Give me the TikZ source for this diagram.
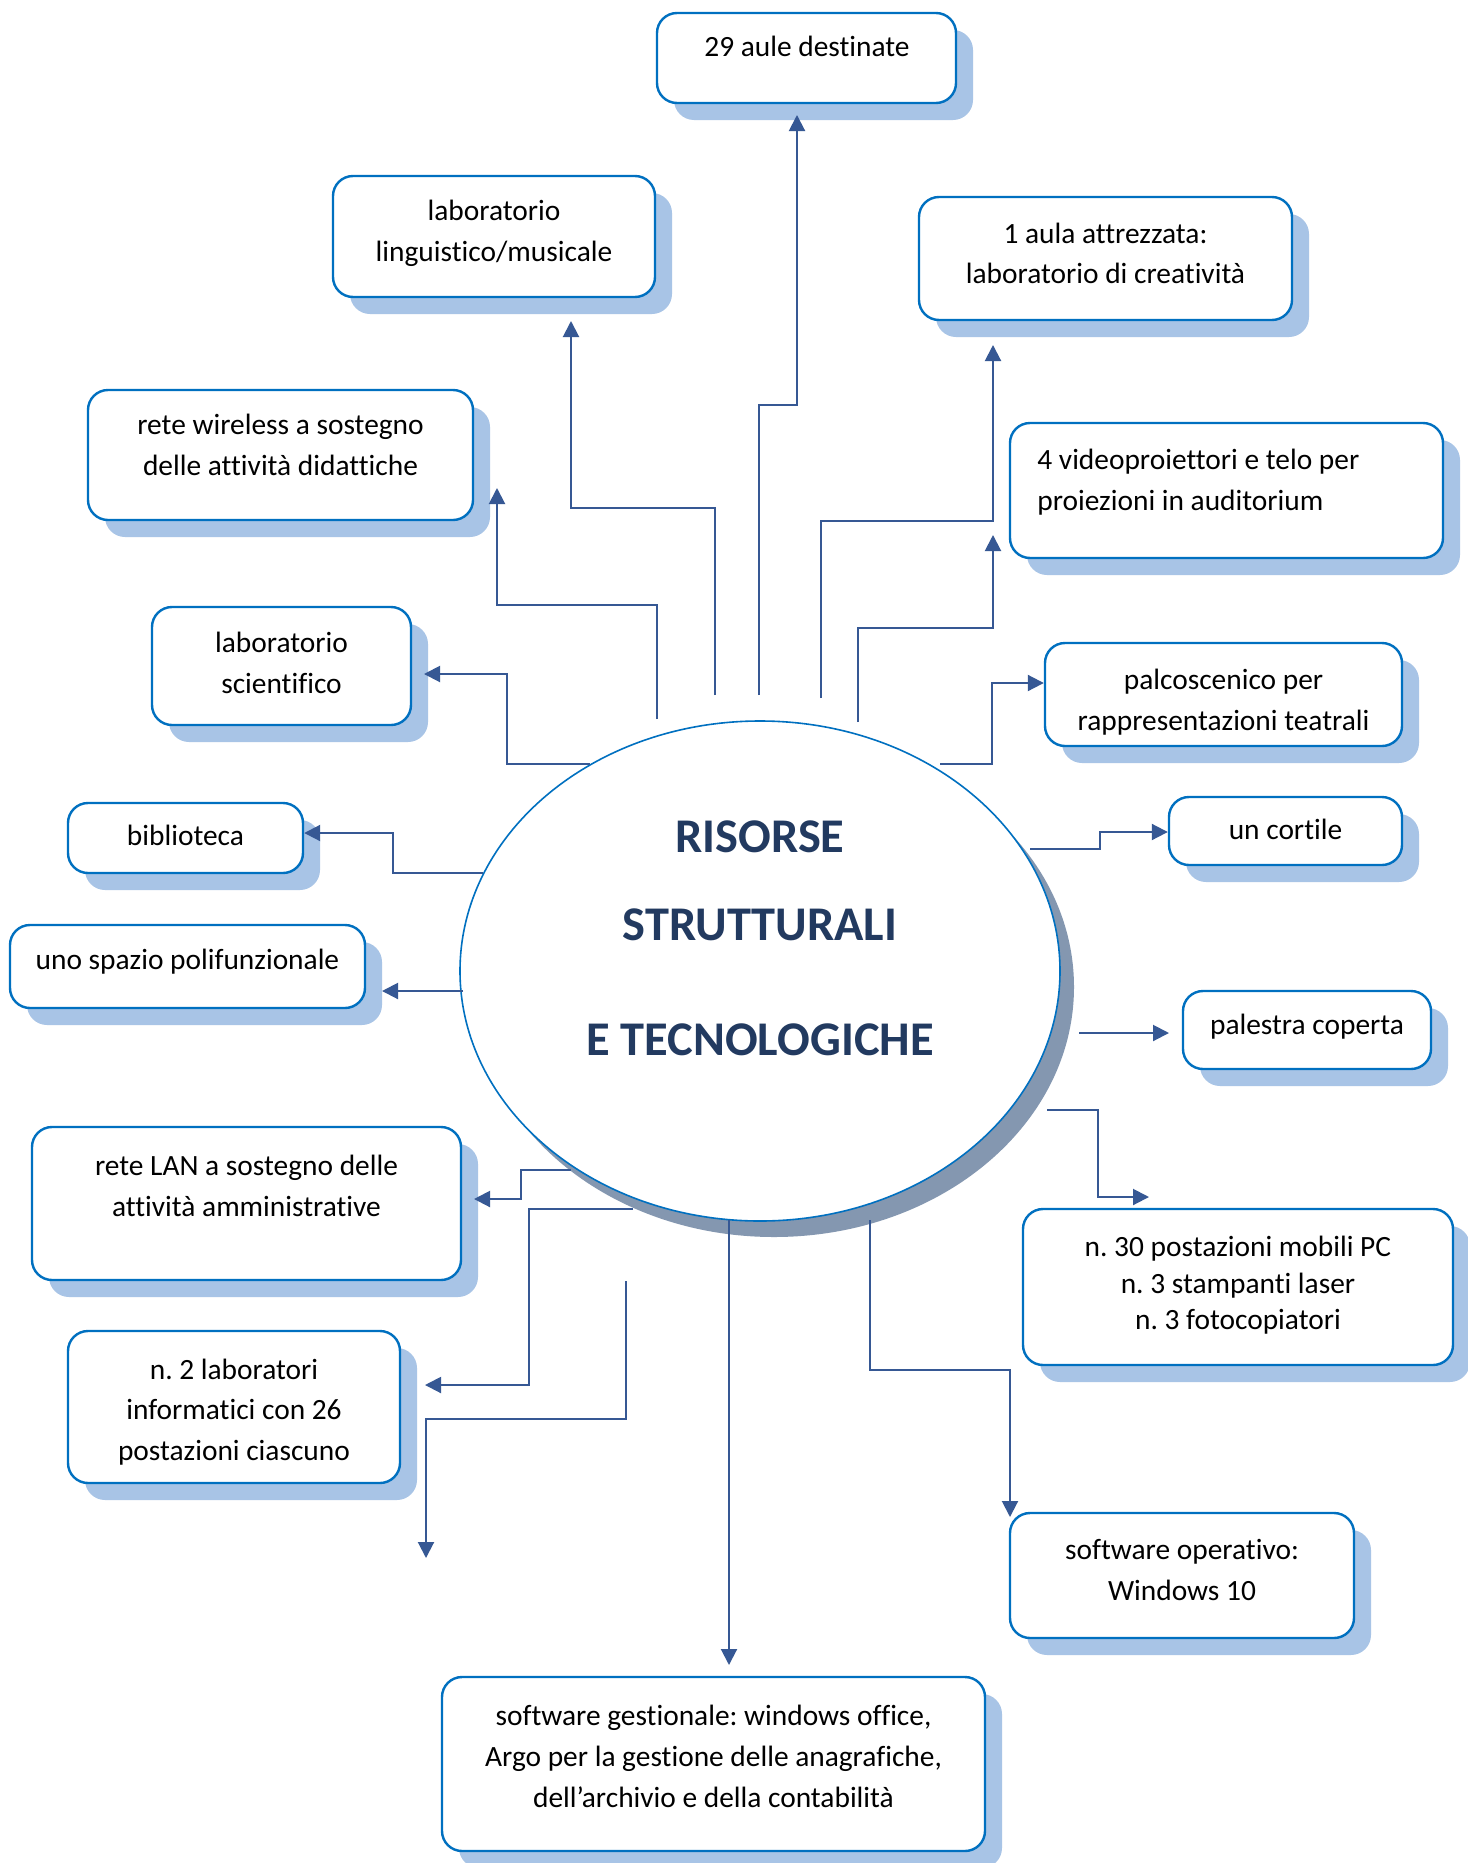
\documentclass[tikz,border=0pt]{standalone}
\usepackage{fontspec}
\setmainfont{Carlito}[Ligatures={NoCommon}]
\frenchspacing
\usetikzlibrary{arrows.meta,shapes.geometric,shadows}
\definecolor{boxline}{RGB}{0,112,192}
\definecolor{boxshade}{RGB}{168,196,230}
\definecolor{ellshade}{RGB}{132,151,176}
\definecolor{linkblue}{RGB}{54,88,148}
\definecolor{titleblue}{RGB}{34,58,96}

\begin{document}
\begin{tikzpicture}[x=0.5pt, y=-0.5pt,
	box/.style = {draw=boxline, line width=1.2pt, fill=white, rounded corners=10pt,
		drop shadow={shadow xshift=8.5pt, shadow yshift=-8.5pt, fill=boxshade, opacity=1}},
	wh/.style 2 args = {minimum width=#1pt, minimum height=#2pt},
	txt/.style = {align=center, inner sep=0pt, font=\fontsize{14.7}{20.35}\selectfont},
	link/.style = {draw=linkblue, line width=1pt, -{Triangle[length=8pt, width=8pt]}}]
	
	\useasboundingbox[fill=white] (0,0) rectangle (1467,1863);
	
	% centre
	\node[ellipse, draw=boxline, line width=0.8pt, fill=white, minimum width=300pt, minimum height=250pt, inner sep=0pt,
		drop shadow={shadow xshift=7pt, shadow yshift=-8pt, fill=ellshade, opacity=1}] (ell) at (760,971) {};
	\node[align=center, text=titleblue, font=\bfseries\fontsize{24.2}{44}\selectfont] (title) at (760,938)
		{RISORSE\\STRUTTURALI\\[13.5pt]E TECNOLOGICHE};
	
	% frames
	\foreach \n/\x/\y/\w/\h in {aule/806.5/58/149.5/45, lingu/494/236.5/161/60.5, aula/1105.5/258.5/186.5/61.5,
		wire/280.5/455/192.5/65, video/1226.5/490.5/216.5/67.5, scient/281.5/666/129.5/59,
		palco/1223.5/694.5/178.5/51.5, biblio/185.5/838/117.5/35, cortile/1285.5/831/116.5/34,
		spazio/187.5/966.5/177.5/41.5, palestra/1307/1030/124/39, lan/246.5/1203.5/214.5/76.5,
		lab2/234/1407/166/76, mobili/1238/1287/215/78, opera/1182/1575.5/172/62.5, gest/713.5/1764/271.5/87}
	{
		\node[box, wh={\w}{\h}] (\n) at (\x,\y) {};
	}
	
	% texts
	\node[txt] (aule-t) at (807,46) {29 aule destinate};
	\node[txt] (lingu-t) at (494,233.5) {laboratorio\\linguistico/musicale};
	\node[txt] (aula-t) at (1105.5,253.5) {1 aula attrezzata:\\laboratorio di creatività};
	\node[txt] (wire-t) at (280.5,445) {rete wireless a sostegno\\delle attività didattiche};
	\node[txt, align=left, anchor=west] (video-t) at (1037,482.5) {4 videoproiettori e telo per\\proiezioni in auditorium};
	\node[txt] (scient-t) at (281.5,663) {laboratorio\\scientifico};
	\node[txt] (palco-t) at (1223.5,702) {palcoscenico per\\rappresentazioni teatrali};
	\node[txt] (biblio-t) at (185.5,835) {biblioteca};
	\node[txt] (cortile-t) at (1285.5,829.5) {un cortile};
	\node[txt] (spazio-t) at (187.5,961.5) {uno spazio polifunzionale};
	\node[txt] (palestra-t) at (1307,1027) {palestra coperta};
	\node[txt] (lan-t) at (246.5,1186) {rete LAN a sostegno delle\\attività amministrative};
	\node[txt] (lab2-t) at (234,1412) {n. 2 laboratori\\informatici con 26\\postazioni ciascuno};
	\node[txt, font=\fontsize{14.7}{18.25}\selectfont] (mobili-t) at (1238,1285.5) {n. 30 postazioni mobili PC\\n. 3 stampanti laser\\n. 3 fotocopiatori};
	\node[txt] (opera-t) at (1182,1570) {software operativo:\\Windows 10};
	\node[txt] (gest-t) at (713.5,1756.5) {software gestionale: windows office,\\Argo per la gestione delle anagrafiche,\\dell’archivio e della contabilità};
	
	% connectors
	\foreach \n/\x/\y in {a0/759/695, a1/797/405, a2/797/115, b0/715/695, b1/571/508, b2/571/321,
		c0/657/719, c1/497/605, c2/497/488, d0/821/698, d1/993/521, d2/993/345,
		e0/858/722, e1/993/628, e2/993/535, f0/590/764, f1/507/674, f2/424/674,
		g0/940/764, g1/992/683, h0/483/873, h1/393/833, i0/1030/849, i1/1100/832,
		j0/463/991, j1/382/991, k0/1079/1033, k1/1169/1033,
		l0/1047/1110, l1/1098/1197, l2/1149/1197, m0/571/1170, m1/521/1199, m2/474/1199,
		n0/633/1209, n1/529/1385, n2/425/1385, o0/626/1281, o1/426/1419, o2/426/1558,
		p0/870/1220, p1/1010/1370, p2/1010/1517, q0/729/1220, q1/729/1665}
	{
		\coordinate (\n) at (\x,\y);
	}
	\draw[link] (a0) |- (a1) -- (a2);
	\draw[link] (b0) |- (b1) -- (b2);
	\draw[link] (c0) |- (c1) -- (c2);
	\draw[link] (d0) |- (d1) -- (d2);
	\draw[link] (e0) |- (e1) -- (e2);
	\draw[link] (f0) -| (f1) -- (f2);
	\draw[link] (g0) -| (g1) -- (g1 -| palco.west);
	\draw[link] (h0) -| (h1) -- (h1 -| biblio.east);
	\draw[link] (i0) -| (i1) -- (i1 -| cortile.west);
	\draw[link] (j0) -- (j1);
	\draw[link] (k0) -- (k1);
	\draw[link] (l0) -| (l1) -- (l2);
	\draw[link] (m0) -| (m1) -- (m2);
	\draw[link] (n0) -| (n1) -- (n2);
	\draw[link] (o0) |- (o1) -- (o2);
	\draw[link] (p0) |- (p1) -- (p2);
	\draw[link] (q0) -- (q1);
\end{tikzpicture}
\end{document}
